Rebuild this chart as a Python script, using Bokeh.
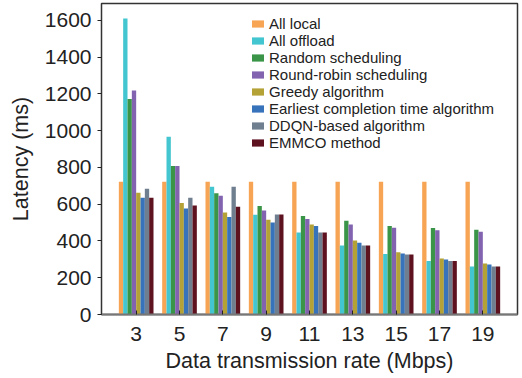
from bokeh.plotting import figure
from bokeh.models import ColumnDataSource, FixedTicker, Legend, LegendItem, Range1d
from bokeh.transform import dodge
from bokeh.embed import file_html
from bokeh.resources import INLINE

rates = [3, 5, 7, 9, 11, 13, 15, 17, 19]
series_names = ["All local", "All offload", "Random scheduling", "Round-robin scheduling",
                "Greedy algorithm", "Earliest completion time algorithm",
                "DDQN-based algorithm", "EMMCO method"]
all_local = [722, 722, 722, 722, 722, 722, 722, 722, 722]
all_offload = [1610, 967, 695, 543, 446, 376, 329, 291, 261]
random_sched = [1172, 808, 659, 590, 536, 510, 481, 470, 461]
round_robin = [1219, 808, 646, 566, 520, 490, 472, 459, 450]
greedy = [662, 606, 555, 516, 490, 403, 338, 305, 278]
earliest = [635, 577, 531, 501, 481, 390, 332, 299, 272]
ddqn = [684, 635, 695, 544, 446, 376, 327, 291, 261]
emmco = [635, 593, 586, 544, 446, 376, 327, 291, 261]
yticks = [0, 200, 400, 600, 800, 1000, 1200, 1400, 1600]

colors = ["#F7A455", "#43C6CF", "#3A9548", "#8163B0", "#B4A236", "#3673BA", "#6F7F8F", "#5E1220"]
values = [all_local, all_offload, random_sched, round_robin, greedy, earliest, ddqn, emmco]

data = {"rate": rates}
keys = ["s%d" % i for i in range(len(values))]
for k, v in zip(keys, values):
    data[k] = v
src = ColumnDataSource(data)

p = figure(width=522, height=378, output_backend="svg", toolbar_location=None,
           x_range=Range1d(1.4, 20.6), y_range=Range1d(0, 1692),
           min_border_left=101, min_border_right=5, min_border_top=3, min_border_bottom=64)

bw = 0.2
items = []
for i, (k, c, name) in enumerate(zip(keys, colors, series_names)):
    r = p.vbar(x=dodge("rate", (i - 3.5) * bw, range=p.x_range), top=k, width=bw,
               source=src, fill_color=c, line_color=None)
    items.append(LegendItem(label=name, renderers=[r]))

legend = Legend(items=items, location=(149, 163), glyph_width=15, glyph_height=9,
                label_height=14, spacing=0, padding=0, margin=0, label_standoff=4,
                label_text_font="Liberation Sans", label_text_font_size="15px",
                label_text_color="#222222", border_line_color=None,
                background_fill_alpha=0)
p.add_layout(legend, "center")

p.xgrid.visible = False
p.ygrid.visible = False
p.outline_line_color = "#333333"
p.outline_line_width = 1.5

p.xaxis.ticker = FixedTicker(ticks=rates)
p.yaxis.ticker = FixedTicker(ticks=yticks)
p.xaxis.axis_label = "Data transmission rate (Mbps)"
p.yaxis.axis_label = "Latency (ms)"
for ax in (p.xaxis[0], p.yaxis[0]):
    ax.axis_label_text_font = "Liberation Sans"
    ax.axis_label_text_font_style = "normal"
    ax.axis_label_text_font_size = "21.5px"
    ax.axis_label_text_color = "#222222"
    ax.major_label_text_font = "Liberation Sans"
    ax.major_label_text_font_size = "21px"
    ax.major_label_text_color = "#222222"
    ax.minor_tick_line_color = None
    ax.major_tick_line_color = "#222222"

p.xaxis.major_tick_in = 4
p.xaxis.major_tick_out = 0
p.xaxis.axis_line_color = "#777777"
p.xaxis.axis_line_width = 2
p.xaxis.major_label_standoff = 12
p.xaxis.axis_label_standoff = 5
p.yaxis.major_tick_in = 0
p.yaxis.major_tick_out = 4
p.yaxis.axis_line_color = "#333333"
p.yaxis.major_label_standoff = 6
p.yaxis.axis_label_standoff = 9

open("out.html", "w").write(file_html(p, INLINE))
